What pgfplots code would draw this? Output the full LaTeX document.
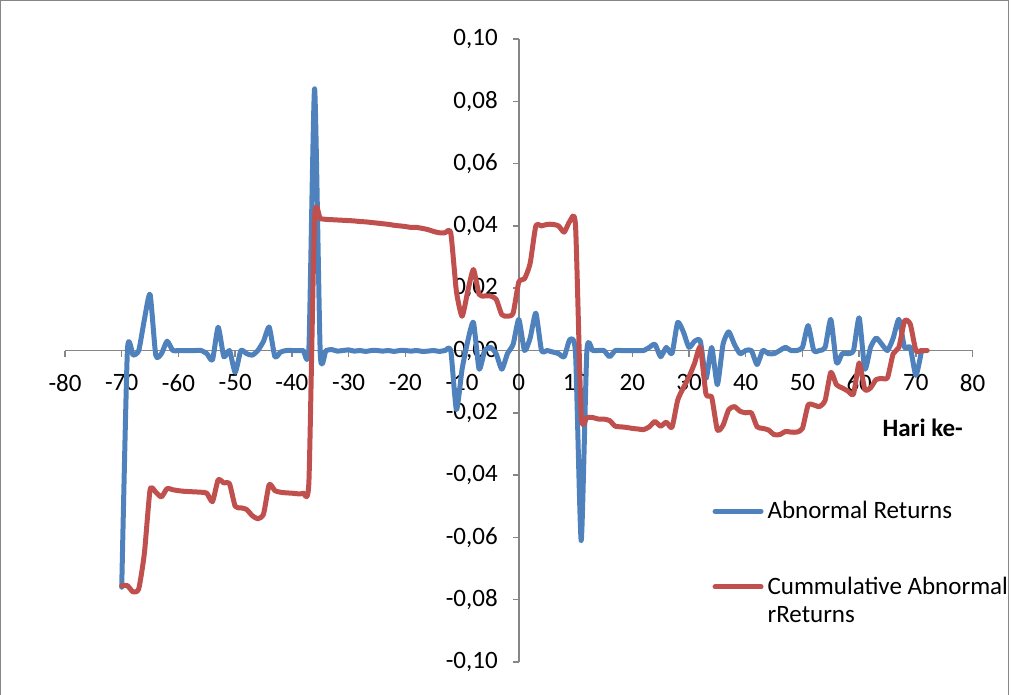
\documentclass[border=0pt]{standalone}
\usepackage{pgfplots}
\pgfplotsset{compat=1.18}
\usepackage{fontspec}
\setmainfont{Carlito}
\definecolor{arblue}{HTML}{4F81BD}
\definecolor{carred}{HTML}{C0504D}
\definecolor{axgray}{HTML}{868686}
\begin{document}
\begin{tikzpicture}
\useasboundingbox (0,0) rectangle (505.5pt,-347.5pt);
\draw[axgray, line width=0.6pt] (0.3pt,-347.5pt) -- (0.3pt,-0.3pt) -- (504.3pt,-0.3pt) -- (504.3pt,-347.5pt);
\begin{axis}[
  at={(32.5pt,-331pt)}, anchor=south west,
  scale only axis, width=453.8pt, height=311.5pt,
  xmin=-80, xmax=80, ymin=-0.1, ymax=0.1,
  axis lines=middle,
  axis line style={axgray, line width=0.75pt, -},
  hide obscured x ticks=false, hide obscured y ticks=false,
  xtick={-80,-70,-60,-50,-40,-30,-20,-10,0,10,20,30,40,50,60,70,80},
  ytick={-0.1,-0.08,-0.06,-0.04,-0.02,0,0.02,0.04,0.06,0.08,0.1},
  tick align=outside, major tick length=3pt,
  tick style={axgray, line width=0.75pt},
  /pgf/number format/assume math mode=true,
  tick label style={font=\fontsize{12.5}{14.5}\selectfont, text=black},
  yticklabel style={xshift=-4pt, /pgf/number format/.cd, fixed, fixed zerofill, precision=2, use comma},
  xticklabel style={yshift=-5.5pt, /pgf/number format/.cd, fixed, precision=0},
  xlabel={Hari ke-},
  x label style={at={(axis cs:71.2,-0.0247)}, anchor=center, font=\bfseries\fontsize{12.5}{14.5}\selectfont},
  legend style={at={(rel axis cs:0.7064,0.271)}, anchor=north west, draw=none, fill=none,
    font=\fontsize{12.5}{14}\selectfont, row sep=22.5pt, cells={anchor=base west, inner xsep=1.5pt}},
  legend image code/.code={\draw[#1, line cap=round] (0pt,3.8pt) -- (23pt,3.8pt);},
  every axis plot/.append style={line width=2.5pt, line cap=round, line join=round, smooth, tension=0.35},
]
\addplot[color=arblue] coordinates {
(-70,-0.076) (-69,0.000) (-68,-0.0015) (-67,0.000) (-66,0.010) (-65,0.018) (-64,-0.0015) (-63,-0.001) (-62,0.003) (-61,0.000)
(-60,0.000) (-59,0.000) (-58,0.000) (-57,0.000) (-56,0.000) (-55,-0.001) (-54,-0.003) (-53,0.0075) (-52,-0.002) (-51,0.000)
(-50,-0.007) (-49,0.000) (-48,-0.001) (-47,-0.0015) (-46,0.000) (-45,0.003) (-44,0.0075) (-43,-0.002) (-42,-0.0005) (-41,0.000)
(-40,0.000) (-39,0.000) (-38,0.000) (-37,0.001) (-36,0.084) (-35,-0.001) (-34,0.000) (-33,0.0003) (-32,-0.0002) (-31,0.000)
(-30,0.0002) (-29,-0.0002) (-28,0.000) (-27,-0.0003) (-26,0.000) (-25,0.000) (-24,-0.0002) (-23,0.000) (-22,-0.0003) (-21,0.000)
(-20,0.000) (-19,-0.0002) (-18,0.000) (-17,-0.0003) (-16,-0.0002) (-15,0.000) (-14,-0.0003) (-13,0.000) (-12,0.000) (-11,-0.019)
(-10,-0.006) (-9,0.003) (-8,0.009) (-7,-0.006) (-6,0.000) (-5,0.001) (-4,-0.001) (-3,-0.006) (-2,-0.001) (-1,0.002)
(0,0.010) (1,0.000) (2,0.004) (3,0.012) (4,0.000) (5,0.000) (6,-0.0005) (7,-0.001) (8,-0.002) (9,0.0035)
(10,-0.001) (11,-0.061) (12,0.000) (13,0.000) (14,0.000) (15,0.000) (16,-0.002) (17,0.000) (18,0.000) (19,0.000)
(20,0.000) (21,0.000) (22,0.000) (23,0.001) (24,0.002) (25,-0.002) (26,0.001) (27,-0.001) (28,0.009) (29,0.006)
(30,0.001) (31,0.003) (32,0.003) (33,-0.009) (34,0.001) (35,-0.011) (36,0.002) (37,0.006) (38,0.002) (39,-0.001)
(40,0.000) (41,0.000) (42,-0.0045) (43,0.000) (44,-0.001) (45,-0.001) (46,0.000) (47,0.001) (48,0.000) (49,0.000)
(50,0.001) (51,0.008) (52,0.000) (53,0.000) (54,0.001) (55,0.010) (56,-0.004) (57,-0.001) (58,-0.001) (59,0.000)
(60,0.0105) (61,-0.006) (62,0.001) (63,0.004) (64,0.002) (65,0.000) (66,0.004) (67,0.010) (68,0.001) (69,0.001)
(70,-0.008) (71,0.000)
};
\addlegendentry{Abnormal Returns}
\addplot[color=carred] coordinates {
(-70,-0.0755) (-69,-0.0755) (-68,-0.0775) (-67,-0.0765) (-66,-0.065) (-65,-0.0447) (-64,-0.0455) (-63,-0.047) (-62,-0.0443) (-61,-0.0447)
(-60,-0.0450) (-59,-0.0452) (-58,-0.0453) (-57,-0.0454) (-56,-0.0455) (-55,-0.0458) (-54,-0.0485) (-53,-0.0415) (-52,-0.0425) (-51,-0.0428)
(-50,-0.050) (-49,-0.0505) (-48,-0.051) (-47,-0.053) (-46,-0.054) (-45,-0.0525) (-44,-0.043) (-43,-0.045) (-42,-0.0455) (-41,-0.0457)
(-40,-0.0458) (-39,-0.046) (-38,-0.0458) (-37,-0.042) (-36,0.0425) (-35,0.0423) (-34,0.0421) (-33,0.042) (-32,0.0419) (-31,0.0418)
(-30,0.0417) (-29,0.0416) (-28,0.0414) (-27,0.0413) (-26,0.0411) (-25,0.0409) (-24,0.0407) (-23,0.0405) (-22,0.0402) (-21,0.040)
(-20,0.0398) (-19,0.0395) (-18,0.0395) (-17,0.0392) (-16,0.0388) (-15,0.0382) (-14,0.0378) (-13,0.0378) (-12,0.0378) (-11,0.019)
(-10,0.011) (-9,0.019) (-8,0.026) (-7,0.018) (-6,0.0175) (-5,0.0175) (-4,0.0165) (-3,0.0115) (-2,0.011) (-1,0.012)
(0,0.022) (1,0.023) (2,0.028) (3,0.040) (4,0.040) (5,0.0405) (6,0.0405) (7,0.040) (8,0.038) (9,0.0415)
(10,0.040) (11,-0.021) (12,-0.0215) (13,-0.0215) (14,-0.022) (15,-0.022) (16,-0.0225) (17,-0.0243) (18,-0.0245) (19,-0.0247)
(20,-0.025) (21,-0.0252) (22,-0.0254) (23,-0.0245) (24,-0.0228) (25,-0.0243) (26,-0.023) (27,-0.0247) (28,-0.016) (29,-0.012)
(30,-0.0085) (31,-0.004) (32,0.001) (33,-0.014) (34,-0.015) (35,-0.0255) (36,-0.024) (37,-0.019) (38,-0.018) (39,-0.0195)
(40,-0.020) (41,-0.020) (42,-0.0245) (43,-0.025) (44,-0.0255) (45,-0.027) (46,-0.027) (47,-0.026) (48,-0.0262) (49,-0.0262)
(50,-0.025) (51,-0.0175) (52,-0.0175) (53,-0.018) (54,-0.016) (55,-0.007) (56,-0.011) (57,-0.012) (58,-0.013) (59,-0.014)
(60,-0.004) (61,-0.0125) (62,-0.012) (63,-0.0093) (64,-0.0090) (65,-0.0087) (66,-0.001) (67,0.001) (68,0.0095) (69,0.0085)
(70,0.000) (71,0.000) (72,0.000)
};
\addlegendentry{\begin{tabular}[t]{@{}l@{}}Cummulative Abnormal\\rReturns\end{tabular}}
\end{axis}
\end{tikzpicture}
\end{document}
